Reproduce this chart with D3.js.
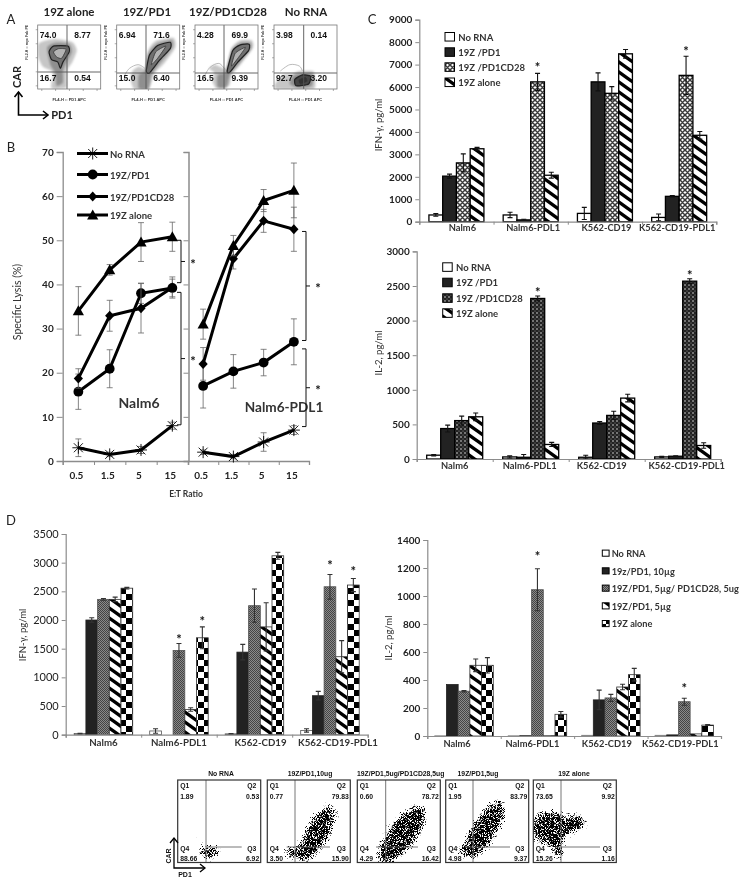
<!DOCTYPE html>
<html><head><meta charset="utf-8">
<script src="https://cdnjs.cloudflare.com/ajax/libs/d3/7.8.5/d3.min.js"></script>
<style>
html,body{margin:0;padding:0;background:#fff}
svg{display:block}
text{font-family:Lato,"Open Sans",sans-serif}
.arial{font-family:"Liberation Sans",Arial,sans-serif;font-weight:700}
</style></head><body><div id="c"></div>
<script>
// ---------- DATA ----------
const flowATitles=["19Z alone","19Z/PD1","19Z/PD1CD28","No RNA"];
const flowAValues=[["74.0","8.77","16.7","0.54"],["6.94","71.6","15.0","6.40"],["4.28","69.9","16.5","9.39"],["3.98","0.14","92.7","3.20"]];
const flowAOuter=[
 [[1,30],[10,25],[30,22],[55,27],[62,40],[55,58],[47,70],[46,85],[45,98],[22,99],[24,80],[22,72],[8,65],[1,50]],
 [[22,85],[25,72],[35,65],[46,68],[50,40],[62,25],[90,20],[93,35],[75,60],[60,75],[55,90],[50,100],[28,100]],
 [[28,88],[30,74],[22,68],[32,62],[50,68],[58,36],[72,24],[90,24],[92,36],[72,62],[58,78],[54,95],[34,99]],
 [[3,90],[15,78],[30,76],[40,72],[62,72],[65,85],[62,100],[4,100]]];
const flowAMid=[
 [[15,35],[28,28],[50,30],[54,42],[45,60],[40,72],[40,90],[30,95],[28,75],[20,62]],
 [[45,72],[50,45],[63,30],[87,24],[88,35],[70,58],[55,78],[50,100],[35,99],[35,78]],
 [[48,74],[58,40],[72,28],[88,28],[88,38],[70,60],[56,76],[50,97],[36,97],[36,78]],
 [[25,92],[32,78],[60,76],[60,95],[40,98]]];
const flowARing=[
 [[18,42],[25,33],[48,33],[50,42],[40,58],[36,68],[32,58],[22,54]],
 [[47,72],[52,47],[65,32],[85,27],[85,37],[68,55],[52,75]],
 [[51,72],[60,40],[72,31],[86,30],[85,40],[68,58],[55,74]],
 [[33,85],[45,78],[58,80],[55,92],[35,95]]];
const flowAInner=[
 [[25,42],[33,37],[45,38],[38,52],[30,50]],
 [[55,62],[62,42],[78,33],[65,52]],
 [[58,64],[64,44],[80,35],[68,52]],
 [[40,86],[50,82],[52,88],[42,92]]];
const flowAFaint=[[],[[12,80],[20,68],[34,62],[45,68]],[[16,78],[24,66],[38,60],[48,70]],[[10,72],[25,62],[40,64],[45,72]]];

const etLabels=["0.5","1.5","5","15"];
const lysisNames=["No RNA","19Z/PD1","19Z/PD1CD28","19Z alone"];
const lysisN6=[[3,1.5,2.5,8],[15.7,20.9,38,39.2],[18.7,32.9,34.6,39.3],[34,43.3,49.6,50.8]];
const lysisN6Err=[[2,0.5,0.8,0.8],[4,4.3,2.3,2],[2.2,3.5,5.6,2.4],[5.5,1.2,4.4,3.3]];
const lysisPD=[[2,1,4.3,7],[17,20.3,22.3,27],[22,45.8,54.4,52.5],[31,48.8,59,61.3]];
const lysisPDErr=[[0.5,0.5,2.1,1],[5,3.8,3,5.2],[3.7,2.3,2.6,5],[3.4,2.3,2.5,6.2]];
const lysisBrackets=[[0,50,40.4],[0,38.2,8.2],[1,52,27.3],[1,25.4,7.8]];

const groups=["Nalm6","Nalm6-PDL1","K562-CD19","K562-CD19-PDL1"];
const cNames=["No RNA","19Z /PD1","19Z /PD1CD28","19Z alone"];
const cIfn=[[300,300,370,190],[2030,80,6230,1130],[2620,6230,5720,6520],[3250,2070,7480,3850]];
const cIfnErr=[[60,120,270,150],[90,30,400,30],[400,380,300,850],[60,130,190,170]];
const cIfnStars=[[1,2,6983],[3,2,7727]];
const cIl2=[[55,30,25,30],[440,25,520,40],[555,2320,630,2570],[610,210,880,195]];
const cIl2Err=[[10,15,30,8],[50,40,20,8],[65,35,60,35],[55,30,55,40]];
const cIl2Stars=[[1,2,2456],[3,2,2697]];
const dNames=["No RNA","19z/PD1, 10\u00b5g","19Z/PD1, 5\u00b5g/ PD1CD28, 5ug","19Z/PD1, 5\u00b5g","19Z alone"];
const dIfn=[[20,65,15,75],[2000,0,1440,680],[2360,1470,2250,2580],[2360,440,1880,1360],[2555,1690,3120,2610]];
const dIfnErr=[[5,40,5,30],[40,0,135,75],[15,120,290,215],[40,30,420,280],[15,190,60,115]];
const dIfnStars=[[1,2,1721],[1,4,2023],[3,2,2995],[3,4,2907]];
const dIl2=[[2,2,5,5],[368,2,258,8],[320,1045,272,245],[505,2,350,15],[505,155,438,78]];
const dIl2Err=[[0,0,0,0],[0,0,70,0],[5,150,25,25],[45,0,20,0],[55,20,45,3]];
const dIl2Stars=[[1,2,1307],[3,2,364]];

const flowBTitles=["No RNA","19Z/PD1,10ug","19Z/PD1,5ug/PD1CD28,5ug","19Z/PD1,5ug","19Z alone"];
const flowBValues=[["1.89","0.53","88.66","6.92"],["0.77","79.83","3.50","15.90"],["0.60","78.72","4.29","16.42"],["1.95","83.79","4.98","9.37"],["73.65","9.92","15.26","1.16"]];
// cell clouds: centre x, centre y, radius along, radius across, angle (panel units 0-100)
const flowBClouds=[
 [[38,87,16,11,0],[24,68,7,5,-30]],
 [[60,65,42,17,-60],[28,88,10,10,0]],
 [[54,66,46,20,-52]],
 [[47,60,44,18,-58],[22,85,10,10,0]],
 [[20,58,26,24,0],[30,88,10,10,0],[52,52,14,14,0]]];

// ---------- LAYOUT ----------
const W=751,H=885;
const svg=d3.select("#c").append("svg").attr("width",W).attr("height",H).attr("viewBox",[0,0,W,H]);
const defs=svg.append("defs");
const root=svg.append("g").style("filter","blur(0.35px)");
const axisGray="#8c8c8c",ink="#222";

function pat(id,w,h,draw){const p=defs.append("pattern").attr("id",id).attr("patternUnits","userSpaceOnUse").attr("width",w).attr("height",h);draw(p);}
pat("lattice",5,5,p=>{p.append("rect").attr("width",5).attr("height",5).attr("fill","#fff");
 p.append("path").attr("d","M-1,-1L6,6M-1,6L6,-1M4,-1L6,1M-1,4L1,6").attr("stroke","#3a3a3a").attr("stroke-width",1.5);});
pat("dots",4,4,p=>{p.append("rect").attr("width",4).attr("height",4).attr("fill","#222");
 p.append("circle").attr("cx",1).attr("cy",1).attr("r",.8).attr("fill","#ddd");p.append("circle").attr("cx",3).attr("cy",3).attr("r",.55).attr("fill","#999");});
pat("stripes",14,10,p=>{p.append("rect").attr("width",14).attr("height",10).attr("fill","#fff");
 p.append("path").attr("d","M-3,-2.14L17,12.14M-3,-12.14L17,2.14M-3,7.86L17,22.14").attr("stroke","#000").attr("stroke-width",3.4);});
pat("fine",2,2,p=>{p.append("rect").attr("width",2).attr("height",2).attr("fill","#8a8a8a");
 p.append("rect").attr("width",1).attr("height",1).attr("fill","#444");p.append("rect").attr("x",1).attr("y",1).attr("width",1).attr("height",1).attr("fill","#444");});
pat("check",12,12,p=>{p.append("rect").attr("width",12).attr("height",12).attr("fill","#fff");
 p.append("rect").attr("width",6).attr("height",6).attr("fill","#000");p.append("rect").attr("x",6).attr("y",6).attr("width",6).attr("height",6).attr("fill","#000");});

const stip=defs.append("filter").attr("id","stip").attr("x","-30%").attr("y","-30%").attr("width","160%").attr("height","160%")
 .attr("color-interpolation-filters","sRGB");
stip.append("feGaussianBlur").attr("in","SourceAlpha").attr("stdDeviation",4).attr("result","b");
stip.append("feTurbulence").attr("type","fractalNoise").attr("baseFrequency",1.25).attr("numOctaves",2).attr("seed",4).attr("result","n");
stip.append("feComposite").attr("in","n").attr("in2","b").attr("operator","arithmetic")
 .attr("k1",0).attr("k2",1).attr("k3",0.66).attr("k4",-1.02).attr("result","c");
const ct=stip.append("feComponentTransfer").attr("in","c");
ct.append("feFuncR").attr("type","linear").attr("slope",0);ct.append("feFuncG").attr("type","linear").attr("slope",0);ct.append("feFuncB").attr("type","linear").attr("slope",0);
ct.append("feFuncA").attr("type","linear").attr("slope",10);
const soft=defs.append("filter").attr("id","soft");soft.append("feGaussianBlur").attr("stdDeviation",1);
const soft2=defs.append("filter").attr("id","soft2");soft2.append("feGaussianBlur").attr("stdDeviation",.5);

function label(t,x,y,o={}){const e=root.append("text").text(t).attr("x",x).attr("y",y)
 .attr("font-size",o.size||10).attr("font-weight",o.weight||700).attr("fill",o.fill||ink).attr("text-anchor",o.anchor||"middle");
 if(o.rot)e.attr("transform",`rotate(${o.rot} ${x} ${y})`);if(o.cls)e.attr("class",o.cls);return e;}
function arrows(xc,yc,top,right,w){
 root.append("path").attr("d",`M${xc},${top}V${yc}H${right}`).attr("fill","none").attr("stroke","#000").attr("stroke-width",w);
 root.append("path").attr("d",`M${xc-4},${top+5}L${xc},${top}L${xc+4},${top+5}M${right-5},${yc-4}L${right},${yc}L${right-5},${yc+4}`).attr("fill","none").attr("stroke","#000").attr("stroke-width",w);
}

// panel letters
label("A",11,24,{size:13,weight:400});label("B",11,152,{size:13,weight:400});
label("C",372,24,{size:13,weight:400});label("D",11,525,{size:13,weight:400});

// ---------- PANEL A ----------
const aX0=[37.7,116.7,195,274],aGateX=[67,146,224,303.7],aGateY=[72,73,73,73],aTitleX=[69,147,228,306];
const aW=63,aY0=25,aH=64;
const closed=d3.line().curve(d3.curveCardinalClosed.tension(.4));
const open=d3.line().curve(d3.curveCardinal);
flowATitles.forEach((t,i)=>{
 const g=root.append("g");
 const x=d3.scaleLinear([0,100],[aX0[i],aX0[i]+aW]),y=d3.scaleLinear([0,100],[aY0,aY0+aH]);
 const pts=a=>a.map(p=>[x(p[0]),y(p[1])]);
 const id="clipA"+i;defs.append("clipPath").attr("id",id).append("rect").attr("x",aX0[i]).attr("y",aY0).attr("width",aW).attr("height",aH);
 const c=g.append("g").attr("clip-path",`url(#${id})`);
 c.append("path").attr("d",closed(pts(flowAOuter[i]))).attr("fill","#c6c6c6").attr("filter","url(#soft)");
 c.append("path").attr("d",closed(pts(flowAMid[i]))).attr("fill","#8f8f8f").attr("filter","url(#soft)");
 c.append("path").attr("d",closed(pts(flowARing[i]))).attr("fill",i==3?"#444":"#707070").attr("stroke","#222").attr("stroke-width",1.2).attr("filter","url(#soft2)");
 c.append("path").attr("d",closed(pts(flowAInner[i]))).attr("fill",i==3?"#333":"#b4b4b4").attr("stroke","#333").attr("stroke-width",.8).attr("filter","url(#soft2)");
 if(flowAFaint[i].length)c.append("path").attr("d",open(pts(flowAFaint[i]))).attr("fill","none").attr("stroke","#aaa").attr("stroke-width",.8);
 g.append("line").attr("x1",aGateX[i]).attr("x2",aGateX[i]).attr("y1",aY0).attr("y2",aY0+aH).attr("stroke","#555").attr("stroke-width",.9);
 g.append("line").attr("x1",aX0[i]).attr("x2",aX0[i]+aW).attr("y1",aGateY[i]).attr("y2",aGateY[i]).attr("stroke","#555").attr("stroke-width",.9);
 g.append("rect").attr("x",aX0[i]).attr("y",aY0).attr("width",aW).attr("height",aH).attr("fill","none").attr("stroke","#777").attr("stroke-width",.8);
 const lx=[.165,.71],ly=[.2,.88];
 flowAValues[i].forEach((v,k)=>label(v,aX0[i]+aW*lx[k%2],aY0+aH*ly[k>>1],{size:8.5,cls:"arial",fill:"#111"}));
 label(t,aTitleX[i],16,{size:11.5,fill:"#222"});
 // tiny log axes
 const lxS=d3.scaleLog([10**-0.26,10**4.3],[aX0[i],aX0[i]+aW]),lyS=d3.scaleLog([10**-0.26,10**4.3],[aY0+aH,aY0]);
 const tv=[1,10,100,1000,10000];
 g.append("g").attr("transform",`translate(0,${aY0+aH})`).call(d3.axisBottom(lxS).tickValues(tv).tickSize(2).tickFormat(()=>""))
  .call(s=>{s.select(".domain").remove();s.selectAll("line").attr("stroke","#777").attr("stroke-width",.6);});
 g.append("g").attr("transform",`translate(${aX0[i]},0)`).call(d3.axisLeft(lyS).tickValues(tv).tickSize(2).tickFormat(()=>""))
  .call(s=>{s.select(".domain").remove();s.selectAll("line").attr("stroke","#777").attr("stroke-width",.6);});
 label("FL4-H :: PD1  APC",aX0[i]+aW*.5,100.5,{size:4,cls:"arial",fill:"#333"});
 label("FL2-H :: myc Fab PE",aX0[i]-10,aY0+aH*.27,{size:3.6,cls:"arial",fill:"#333",rot:-90});
});
arrows(18.5,115,92,48,1.6);
label("CAR",21,77,{size:11,rot:-90,fill:"#222"});label("PD1",62,118.5,{size:11,fill:"#222"});

// ---------- PANEL B ----------
const bY=d3.scaleLinear([0,70],[461,152]);
const bXL=d3.scaleBand(etLabels,[62.7,188]),bXR=d3.scaleBand(etLabels,[188,309]);
function symDraw(sel,i,x,y){
 if(i===0){const r=6;sel.append("path").attr("d",`M${x-r},${y}H${x+r}M${x},${y-r}V${y+r}M${x-r*.75},${y-r*.75}L${x+r*.75},${y+r*.75}M${x-r*.75},${y+r*.75}L${x+r*.75},${y-r*.75}`)
   .attr("stroke","#000").attr("stroke-width",.9).attr("fill","none");}
 else if(i===1)sel.append("circle").attr("cx",x).attr("cy",y).attr("r",4.9).attr("fill","#000");
 else if(i===2)sel.append("path").attr("d",`M${x-4.6},${y}L${x},${y-5}L${x+4.6},${y}L${x},${y+5}Z`).attr("fill","#000");
 else sel.append("path").attr("d",`M${x-5.6},${y+4.4}L${x},${y-5.6}L${x+5.6},${y+4.4}Z`).attr("fill","#000");
}
function lysis(x,vals,errs){
 const g=root.append("g");
 vals.forEach((s,i)=>{
  const cx=(_,k)=>x(etLabels[k])+x.bandwidth()/2;
  s.forEach((v,k)=>{const X=cx(0,k),e=errs[i][k];
   g.append("path").attr("d",`M${X-3},${bY(v+e)}H${X+3}M${X},${bY(v+e)}V${bY(v-e)}M${X-3},${bY(v-e)}H${X+3}`).attr("stroke","#666").attr("stroke-width",.8).attr("fill","none");});
  g.append("path").attr("d",d3.line().x((d,k)=>cx(0,k)).y(d=>bY(d))(s)).attr("fill","none").attr("stroke","#000").attr("stroke-width",3);
  s.forEach((v,k)=>symDraw(g,i,cx(0,k),bY(v)));
 });
}
const bAxis=root.append("g");
bAxis.append("g").attr("transform","translate(62.7,0)").call(d3.axisLeft(bY).tickValues(d3.range(0,71,10)).tickSize(6).tickPadding(3))
 .call(s=>{s.select(".domain").attr("stroke",axisGray).attr("stroke-width",1.3);s.selectAll("line").attr("stroke",axisGray);
  s.selectAll("text").attr("font-size",10).attr("font-weight",700).attr("fill",ink).style("font-family","Lato");});
bAxis.append("g").attr("transform","translate(188.5,0)").call(d3.axisLeft(bY).tickValues(d3.range(0,71,10)).tickSize(5).tickFormat(()=>""))
 .call(s=>{s.select(".domain").attr("stroke",axisGray).attr("stroke-width",1.5);s.selectAll("line").attr("stroke",axisGray);});
[[bXL,-2],[bXR,-2]].forEach(([x,dx])=>{
 const edge=d3.scaleLinear([0,4],x.range());
 bAxis.append("g").attr("transform","translate(0,461)").call(d3.axisBottom(edge).tickValues(d3.range(5)).tickSize(4).tickFormat(()=>""))
  .call(s=>{s.select(".domain").attr("stroke",axisGray).attr("stroke-width",1.3);s.selectAll("line").attr("stroke",axisGray);});
 bAxis.append("g").attr("transform",`translate(${dx},470)`).call(d3.axisBottom(x).tickSize(0).tickPadding(2))
  .call(s=>{s.select(".domain").remove();s.selectAll("text").attr("font-size",10).attr("font-weight",700).attr("fill",ink).style("font-family","Lato");});
});
lysis(bXL,lysisN6,lysisN6Err);lysis(bXR,lysisPD,lysisPDErr);
label("Specific Lysis (%)",21,302,{size:10.5,weight:400,rot:-90,fill:"#333"});
label("E:T Ratio",186,497,{size:8.5,fill:"#333"});
label("Nalm6",139,408,{size:14,weight:700,fill:"#333"});
label("Nalm6-PDL1",284,412,{size:13.6,weight:700,fill:"#333"});
const brackX=[181,306];
lysisBrackets.forEach(([p,a,b])=>{
 const x=brackX[p],y1=bY(a),y2=bY(b),m=(y1+y2)/2;
 root.append("path").attr("d",`M${x-4},${y1}H${x}V${y2}H${x-4}M${x},${m}H${x+4}`).attr("fill","none").attr("stroke","#111").attr("stroke-width",1);
 label("*",x+12,m+7.5,{size:13,fill:"#111"});
});
const bLegY=[153.5,174.5,196.5,215];
lysisNames.forEach((n,i)=>{
 root.append("line").attr("x1",77).attr("x2",108).attr("y1",bLegY[i]).attr("y2",bLegY[i]).attr("stroke","#000").attr("stroke-width",3);
 symDraw(root,i,92.7,bLegY[i]);
 label(n,110,bLegY[i]+4,{size:9.5,anchor:"start",fill:"#333"});
});

// ---------- BAR CHARTS ----------
function swatch(x,y,s,f,stroke){root.append("rect").attr("x",x).attr("y",y).attr("width",s).attr("height",s*.9).attr("fill",f).attr("stroke",stroke||"#000").attr("stroke-width",1);}
function bars(o){
 const y=d3.scaleLinear([0,o.max],[o.y0,o.yTop]);
 const x=d3.scaleBand(groups,[o.x0,o.x1]);
 const edge=d3.scaleLinear([0,4],[o.x0,o.x1]);
 const inner=d3.scaleBand(d3.range(o.vals.length),[0,o.groupW]);
 const off=(x.bandwidth()-o.groupW)/2;
 const g=root.append("g");
 o.vals.forEach((s,i)=>{
  s.forEach((v,k)=>{
   const X=x(groups[k])+off+inner(i),w=inner.bandwidth();
   g.append("rect").attr("x",X).attr("y",y(v)).attr("width",w).attr("height",y(0)-y(v))
    .attr("fill",`${o.fills[i]}`).attr("stroke",o.barStroke[i]).attr("stroke-width",o.sw);
   const e=o.errs[i][k];
   if(e>0){const c=X+w/2;
    g.append("path").attr("d",`M${c-2.5},${y(v+e)}H${c+2.5}M${c},${y(v+e)}V${y(Math.max(0,v-e))}M${c-2.5},${y(Math.max(0,v-e))}H${c+2.5}`)
     .attr("stroke",o.errColor).attr("stroke-width",1.1).attr("fill","none");}
  });
 });
 o.stars.forEach(([k,i,val])=>{
  const X=x(groups[k])+off+inner(i)+inner.bandwidth()/2;
  label("*",X,y(val)+7.5,{size:13,fill:"#111"});
 });
 g.append("g").attr("transform",`translate(${o.x0},0)`).call(d3.axisLeft(y).tickValues(d3.range(0,o.max+1,o.step)).tickSize(4).tickPadding(3).tickFormat(d3.format("d")))
  .call(s=>{s.select(".domain").attr("stroke",axisGray).attr("stroke-width",1.2);s.selectAll("line").attr("stroke",axisGray);
   s.selectAll("text").attr("font-size",o.tickSize||10).attr("font-weight",o.tickWeight||700).attr("fill",o.tickFill||ink).style("font-family","Lato");});
 g.append("g").attr("transform",`translate(0,${o.y0})`).call(d3.axisBottom(edge).tickValues(d3.range(5)).tickSize(3).tickFormat(()=>""))
  .call(s=>{s.select(".domain").attr("stroke",axisGray).attr("stroke-width",1.2);s.selectAll("line").attr("stroke",axisGray);});
 g.append("g").attr("transform",`translate(0,${o.labelY})`).call(d3.axisBottom(x).tickSize(0).tickPadding(0))
  .call(s=>{s.select(".domain").remove();s.selectAll("text").attr("font-size",o.labelSize).attr("font-weight",700).attr("fill","#333").style("font-family","Lato")
   .attr("dx",(d,i)=>o.labelDx[i]);});
 label(o.title,o.titleX,o.titleY,{size:9.5,weight:400,rot:-90,fill:"#333"});
}
const cFills=["#fff","#222","url(#lattice)","url(#stripes)"];
const cFills2=["#fff","#222","url(#dots)","url(#stripes)"];
const cStroke=["#000","#000","#000","#000"];
bars({max:9000,step:1000,x0:419.3,x1:716.3,y0:221.7,yTop:19.7,groupW:55,vals:cIfn,errs:cIfnErr,fills:cFills,barStroke:cStroke,sw:1.3,errColor:"#111",
 stars:cIfnStars,labelY:224,labelSize:9.3,labelDx:[6,2.5,1.5,-2],title:"IFN-\u03b3, pg/ml",titleX:382,titleY:125});
bars({max:3000,step:500,x0:416.7,x1:720.7,y0:459,yTop:251.4,groupW:56,vals:cIl2,errs:cIl2Err,fills:cFills2,barStroke:cStroke,sw:1.3,errColor:"#111",
 stars:cIl2Stars,labelY:462,labelSize:9.3,labelDx:[0,-1,-5,4],title:"IL-2, pg/ml",titleX:382,titleY:353});
const dFills=["#fff","#222","url(#fine)","url(#stripes)","url(#check)"];
bars({max:3500,step:500,x0:65.7,x1:367.7,y0:734.7,yTop:534,groupW:58.5,vals:dIfn,errs:dIfnErr,fills:dFills,barStroke:["#555","#222","#555","#333","#333"],sw:.8,errColor:"#333",
 stars:dIfnStars,labelY:739,labelSize:9.7,labelDx:[0,0,6,8],title:"IFN-\u03b3, pg/ml",titleX:26,titleY:635,tickSize:11,tickWeight:400});
bars({max:1400,step:200,x0:427.3,x1:721,y0:736,yTop:540,groupW:58.5,vals:dIl2,errs:dIl2Err,fills:dFills,barStroke:["#888","#222","#555","#333","#333"],sw:.8,errColor:"#333",
 stars:dIl2Stars,labelY:740,labelSize:9.3,labelDx:[-7,-5,-4,-4],title:"IL-2, pg/ml",titleX:392,titleY:638});

const legC1=[37,52.3,67.3,82.5],legC2=[267.3,282.7,298.3,313.3],legD=[553.3,571,588.3,606,623.7];
cNames.forEach((n,i)=>{swatch(445,legC1[i]-4.5,9.5,cFills[i]);label(n,458.3,legC1[i]+3.5,{size:9.5,anchor:"start",fill:"#333"});});
cNames.forEach((n,i)=>{swatch(442.7,legC2[i]-4.5,9.5,cFills2[i]);label(n,456,legC2[i]+3.5,{size:9.5,anchor:"start",fill:"#333"});});
dNames.forEach((n,i)=>{swatch(602.3,legD[i]-3.2,6.8,dFills[i]);label(n,611.7,legD[i]+3.5,{size:9.2,anchor:"start",fill:"#333"});});

// ---------- BOTTOM FLOW ----------
const fX0=[177.7,267.3,357.3,445.7,533.3],fGateX=[206,295,385.7,473,561],fHx=[[206,241.7],[286.7,330],[376,418],[465,510],[555,600]];
const fTitleX=[221,310,400.7,478,574];
const fW=83,fY0=780,fH=82.5,fGateY=847;
flowBTitles.forEach((t,i)=>{
 const g=root.append("g");
 const x=d3.scaleLinear([0,100],[fX0[i],fX0[i]+fW]),y=d3.scaleLinear([0,100],[fY0,fY0+fH]);
 const id="clipF"+i;defs.append("clipPath").attr("id",id).append("rect").attr("x",fX0[i]).attr("y",fY0).attr("width",fW).attr("height",fH);
 const clip=g.append("g").attr("clip-path",`url(#${id})`);
 const cloud=clip.append("g").attr("filter","url(#stip)");
 flowBClouds[i].forEach(([cx,cy,a,b,ang])=>{
  cloud.append("ellipse").attr("cx",x(cx)).attr("cy",y(cy)).attr("rx",x(a)-x(0)).attr("ry",x(b)-x(0))
   .attr("transform",`rotate(${ang} ${x(cx)} ${y(cy)})`).attr("fill","#000");
 });
 g.append("line").attr("x1",fGateX[i]).attr("x2",fGateX[i]).attr("y1",fY0).attr("y2",fY0+fH).attr("stroke","#666").attr("stroke-width",.9);
 g.append("line").attr("x1",fHx[i][0]).attr("x2",fHx[i][1]).attr("y1",fGateY).attr("y2",fGateY).attr("stroke","#666").attr("stroke-width",.9);
 g.append("rect").attr("x",fX0[i]).attr("y",fY0).attr("width",fW).attr("height",fH).attr("fill","none").attr("stroke","#333").attr("stroke-width",1.2);
 const o={size:6.8,cls:"arial",fill:"#111"};
 label(t,fTitleX[i],775.5,o);
 label("Q1",fX0[i]+2.5,788,{...o,anchor:"start"});label(flowBValues[i][0],fX0[i]+2.5,798.5,{...o,anchor:"start"});
 label("Q2",fX0[i]+fW-9,788,o);label(flowBValues[i][1],fX0[i]+fW-1.5,798.5,{...o,anchor:"end"});
 label("Q4",fX0[i]+2.5,851,{...o,anchor:"start"});label(flowBValues[i][2],fX0[i]+2.5,861,{...o,anchor:"start"});
 label("Q3",fX0[i]+fW-9,851,o);label(flowBValues[i][3],fX0[i]+fW-1.5,861,{...o,anchor:"end"});
});
arrows(174,868,838,205,1.3);
label("CAR",171,856,{size:7,cls:"arial",rot:-90,fill:"#111"});label("PD1",185,877,{size:7,cls:"arial",fill:"#111"});
</script></body></html>
